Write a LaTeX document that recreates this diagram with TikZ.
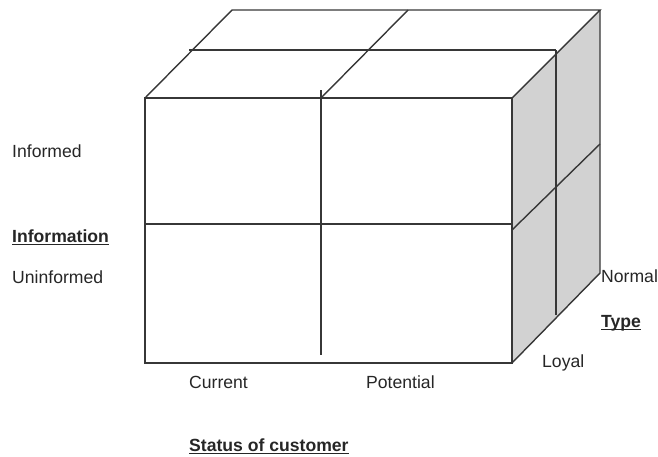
\documentclass[tikz,border=0pt]{standalone}
\usepackage{fontspec}
\setmainfont{Liberation Sans}
\usepackage{tikz}

\definecolor{sideface}{RGB}{210,210,210}
\definecolor{edge}{RGB}{55,55,55}

% bold heading with a rule under it (rule ignores descenders)
\newcommand{\axislabel}[1]{\setbox0\hbox{\bfseries #1}\rlap{\rule[-3.2pt]{\wd0}{1.3pt}}\box0}

\tikzset{
  txt/.style={anchor=base west, inner sep=0pt, font=\fontsize{17.6pt}{20pt}\selectfont, text=black!85},
  cubeline/.style={draw=edge, line width=1.4pt}
}

\begin{document}
\begin{tikzpicture}[x=1pt, y=-1pt, line join=miter]
  \useasboundingbox (0,0) rectangle (658,456); % 画面全体

  % 立方体の角
  \coordinate (ftl) at (145,98);  \coordinate (ftr) at (512,98);
  \coordinate (fbl) at (145,363); \coordinate (fbr) at (512,363);
  \coordinate (btl) at (232,10);  \coordinate (btr) at (600,10);
  \coordinate (bbr) at (600,273);

  \fill[sideface] (ftr) -- (btr) -- (bbr) -- (fbr) -- cycle; % 右側面（灰色）

  \draw[cubeline] (fbl) -- (ftl) -- (ftr) -- (fbr) -- cycle; % 正面
  \draw[cubeline] (ftl) -- (btl) -- (btr) -- (ftr);         % 上面
  \draw[cubeline] (btr) -- (bbr) -- (fbr);                  % 右側面

  % 区切り線
  \draw[cubeline] (145,224) -- (512,224); % 正面 横
  \draw[cubeline] (321,90) -- (321,355);  % 正面 縦
  \draw[cubeline] (189,50) -- (556,50);   % 上面 横
  \draw[cubeline] (321,98) -- (408,10);   % 上面 斜め
  \draw[cubeline] (556,50) -- (556,315);  % 右側面 縦
  \draw[cubeline] (512,230) -- (600,144); % 右側面 斜め

  % 縦軸のラベル
  \node[txt] (informed) at (12,157) {Informed};
  \node[txt] (information) at (12,242) {\axislabel{Information}};
  \node[txt] (uninformed) at (12,283) {Uninformed};

  % 横軸のラベル
  \node[txt] (current) at (189,388) {Current};
  \node[txt] (potential) at (366,388) {Potential};
  \node[txt] (status) at (189,451) {\axislabel{Status of customer}};

  % 奥行きのラベル
  \node[txt] (normal) at (601,282) {Normal};
  \node[txt] (type) at (601,327) {\axislabel{Type}};
  \node[txt] (loyal) at (542,367) {Loyal};
\end{tikzpicture}
\end{document}
